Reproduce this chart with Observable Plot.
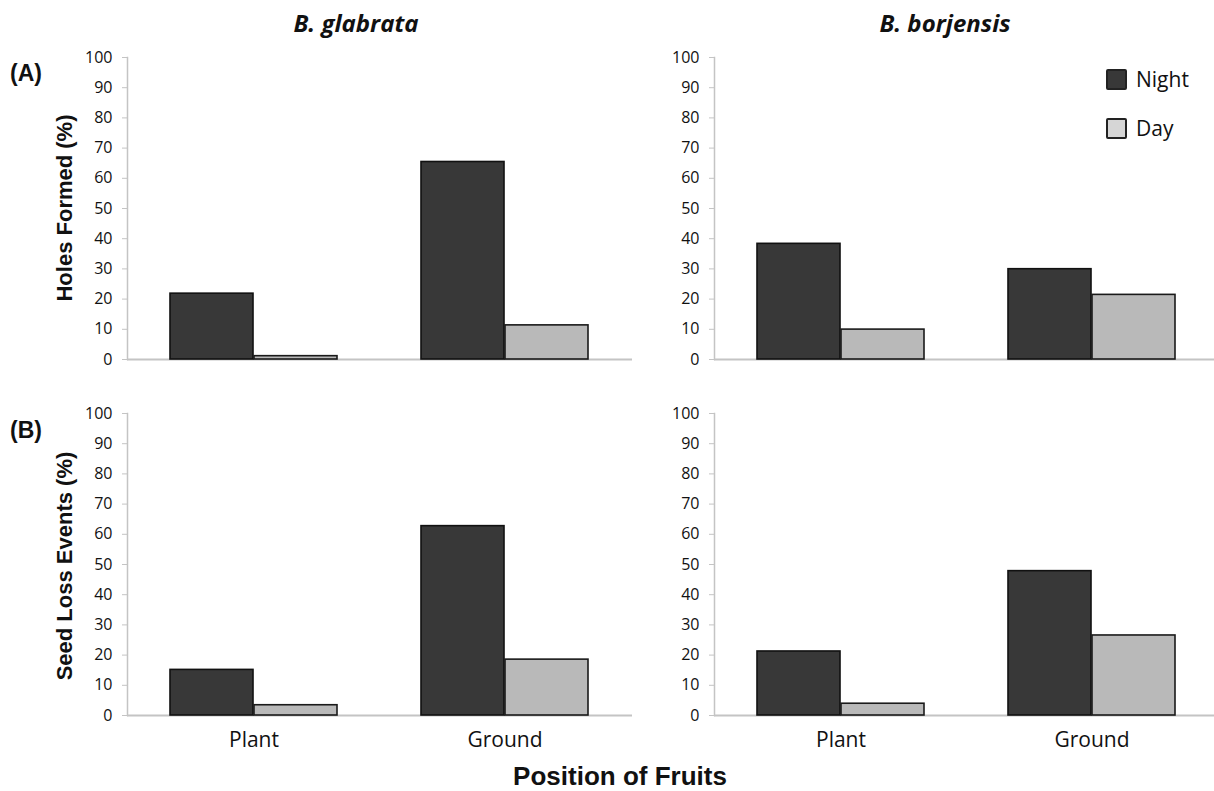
<!DOCTYPE html>
<html>
<head>
<meta charset="utf-8">
<script src="https://cdn.jsdelivr.net/npm/d3@7"></script>
<script src="https://cdn.jsdelivr.net/npm/@observablehq/plot@0.6"></script>
<style>
  body { margin: 0; background: #fff; }
  #wrap { position: relative; width: 1214px; height: 791px; overflow: hidden; font-family: "Open Sans", sans-serif; color: #111; }
  .panel { position: absolute; }
  .panel text { font-family: "Open Sans", sans-serif; }
  .panel g[aria-label="y-axis tick label"] text, .panel g[aria-label="y-axis tick label"] { font-size: 16px !important; }
  .panel g[aria-label="x-axis tick label"] text, .panel g[aria-label="x-axis tick label"] { font-size: 21px !important; }
  .species { position: absolute; font-family: "Open Sans", sans-serif; font-weight: 700; font-style: italic; font-size: 24px; transform: translate(-50%, -50%); white-space: nowrap; color: #111; }
  .tag { position: absolute; font-family: "Liberation Sans", Arial, sans-serif; font-weight: 700; font-size: 23px; transform: translateY(-50%); color: #111; }
  .ytitle { position: absolute; font-family: "Liberation Sans", Arial, sans-serif; font-weight: 700; font-size: 22px; transform: translate(-50%, -50%) rotate(-90deg); white-space: nowrap; color: #111; }
  .xtitle { position: absolute; font-family: "Liberation Sans", Arial, sans-serif; font-weight: 700; font-size: 26px; transform: translate(-50%, -50%); white-space: nowrap; color: #111; }
  .legend-item { position: absolute; display: flex; align-items: center; transform: translateY(-50%); font-family: "Open Sans", sans-serif; font-size: 21px; color: #111; }
  .swatch { width: 17px; height: 17px; border: 2px solid #222; border-radius: 2px; margin-right: 9px; box-sizing: content-box; }
</style>
</head>
<body>
<div id="wrap"></div>
<script>
// ---- data ----
const positions = ["Plant", "Ground"];
const periods = ["Night", "Day"];
const species = ["B. glabrata", "B. borjensis"];
const panelTags = ["(A)", "(B)"];
const yTitles = ["Holes Formed (%)", "Seed Loss Events (%)"];
const xTitle = "Position of Fruits";
const yTicks = [0, 10, 20, 30, 40, 50, 60, 70, 80, 90, 100];

const holesGlabrataNight = [21.8, 65.4];
const holesGlabrataDay = [1.1, 11.3];
const holesBorjensisNight = [38.3, 29.9];
const holesBorjensisDay = [9.9, 21.4];
const lossGlabrataNight = [15.1, 62.7];
const lossGlabrataDay = [3.4, 18.5];
const lossBorjensisNight = [21.2, 47.8];
const lossBorjensisDay = [3.9, 26.5];

// ---- styling ----
const nightFill = "#383838";
const dayFill = "#b9b9b9";
const axisGray = "#c4c4c4";

const wrap = document.getElementById("wrap");

function rows(night, day) {
  return positions.flatMap((p, i) => [
    {position: p, period: periods[0], value: night[i]},
    {position: p, period: periods[1], value: day[i]}
  ]);
}

const ML = 127, RANGE = 505, PI = 1 / 3, PO = 0.1687;
const step = RANGE / (positions.length - PI + 2 * PO);
const half = step * (1 - PI) / 2;

function panel(night, day, opts) {
  const data = rows(night, day);
  return Plot.plot({
    width: opts.width,
    height: opts.height,
    marginLeft: ML,
    marginRight: 0,
    marginTop: opts.mt,
    marginBottom: opts.mb,
    x: {domain: positions, range: [ML, ML + RANGE], paddingInner: PI, paddingOuter: PO, axis: null},
    y: {domain: [0, 100], axis: null},
    style: {fontFamily: "Open Sans", fontSize: "16px", color: "#111", background: "transparent", overflow: "visible"},
    marks: [
      Plot.frame({anchor: "left", stroke: axisGray, strokeWidth: 1.5}),
      Plot.ruleY([0], {stroke: axisGray, strokeWidth: 1.8}),
      Plot.axisY({ticks: yTicks, tickSize: 5, tickPadding: 10, stroke: axisGray, fill: "#111", label: null, fontSize: 16}),
      Plot.barY(data.filter(d => d.period === periods[0]), {x: "position", y: "value", fill: nightFill, stroke: "#111", strokeWidth: 1.6, insetRight: half}),
      Plot.barY(data.filter(d => d.period === periods[1]), {x: "position", y: "value", fill: dayFill, stroke: "#1a1a1a", strokeWidth: 1.6, insetLeft: half}),
      opts.showX ? Plot.axisX({tickSize: 0, tickPadding: 17, fontSize: 21, fill: "#111", label: null}) : null
    ]
  });
}

function place(el, left, top) {
  el.classList.add("panel");
  el.style.left = left + "px";
  el.style.top = top + "px";
  wrap.appendChild(el);
}

const topOpts = {width: 632, height: 380, mt: 57, mb: 21, showX: false};
const botOpts = {width: 632, height: 390, mt: 43, mb: 45, showX: true};
place(panel(holesGlabrataNight, holesGlabrataDay, topOpts), 0, 0);
place(panel(holesBorjensisNight, holesBorjensisDay, {...topOpts, width: 627}), 587, 0);
place(panel(lossGlabrataNight, lossGlabrataDay, botOpts), 0, 370);
place(panel(lossBorjensisNight, lossBorjensisDay, {...botOpts, width: 627}), 587, 370);

function addText(cls, text, left, top) {
  const d = document.createElement("div");
  d.className = cls;
  d.textContent = text;
  d.style.left = left + "px";
  d.style.top = top + "px";
  wrap.appendChild(d);
  return d;
}

addText("species", species[0], 356, 22);
addText("species", species[1], 945, 22);
addText("tag", panelTags[0], 10, 73);
addText("tag", panelTags[1], 10, 430);
addText("ytitle", yTitles[0], 65, 208);
addText("ytitle", yTitles[1], 65, 566);
addText("xtitle", xTitle, 620, 776);

// legend
const legendFills = [nightFill, "#d6d6d6"];
[79, 128].forEach((cy, i) => {
  const item = document.createElement("div");
  item.className = "legend-item";
  item.style.left = "1106px";
  item.style.top = cy + "px";
  const sw = document.createElement("div");
  sw.className = "swatch";
  sw.style.background = legendFills[i];
  const t = document.createElement("span");
  t.textContent = periods[i];
  item.appendChild(sw);
  item.appendChild(t);
  wrap.appendChild(item);
});
</script>
</body>
</html>
